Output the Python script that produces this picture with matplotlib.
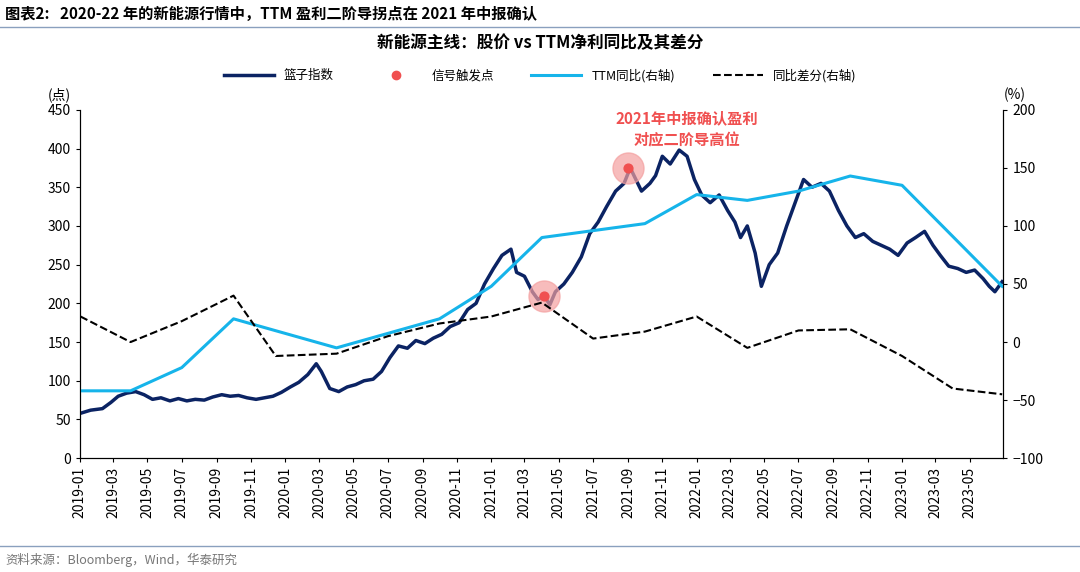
import numpy as np
import pandas as pd
import matplotlib
matplotlib.use('Agg')
import matplotlib.pyplot as plt
import matplotlib.dates as mdates
from matplotlib.lines import Line2D

plt.rcParams['font.family'] = ['Noto Sans CJK SC', 'DejaVu Sans']

# basket index
idx = [
('2019-01-02',58),('2019-01-20',62),('2019-02-10',64),('2019-02-25',72),('2019-03-10',80),('2019-03-25',84),
('2019-04-10',86),('2019-04-25',82),('2019-05-10',76),('2019-05-25',78),('2019-06-10',74),('2019-06-25',77),
('2019-07-10',74),('2019-07-25',76),('2019-08-10',75),('2019-08-25',79),('2019-09-10',82),('2019-09-25',80),
('2019-10-10',81),('2019-10-25',78),('2019-11-10',76),('2019-11-25',78),('2019-12-10',80),('2019-12-25',85),
('2020-01-10',92),('2020-01-25',98),('2020-02-10',108),('2020-02-25',122),('2020-03-05',112),('2020-03-20',90),
('2020-04-05',86),('2020-04-20',92),('2020-05-05',95),('2020-05-20',100),('2020-06-05',102),('2020-06-20',112),
('2020-07-05',130),('2020-07-20',145),('2020-08-05',142),('2020-08-20',152),('2020-09-05',148),('2020-09-20',155),
('2020-10-05',160),('2020-10-20',170),('2020-11-05',175),('2020-11-20',192),('2020-12-05',200),('2020-12-20',225),
('2021-01-05',245),('2021-01-20',262),('2021-02-05',270),('2021-02-15',240),('2021-03-01',235),('2021-03-15',215),
('2021-03-25',205),('2021-04-05',210),('2021-04-15',198),('2021-04-25',215),('2021-05-10',225),('2021-05-25',240),
('2021-06-10',260),('2021-06-25',290),('2021-07-10',305),('2021-07-25',325),('2021-08-10',345),('2021-08-25',355),
('2021-09-05',375),('2021-09-15',360),('2021-09-25',345),('2021-10-10',355),('2021-10-20',365),('2021-11-01',390),
('2021-11-15',380),('2021-12-01',398),('2021-12-15',390),('2021-12-28',360),('2022-01-10',340),('2022-01-25',330),
('2022-02-10',340),('2022-02-25',320),('2022-03-10',305),('2022-03-20',285),('2022-04-01',300),('2022-04-15',265),
('2022-04-26',222),('2022-05-10',250),('2022-05-25',265),('2022-06-10',300),('2022-06-25',330),('2022-07-10',360),
('2022-07-25',350),('2022-08-10',355),('2022-08-25',345),('2022-09-10',320),('2022-09-25',300),('2022-10-10',285),
('2022-10-25',290),('2022-11-10',280),('2022-11-25',275),('2022-12-10',270),('2022-12-25',262),('2023-01-10',278),
('2023-01-25',285),('2023-02-10',293),('2023-02-25',275),('2023-03-10',262),('2023-03-25',248),('2023-04-10',245),
('2023-04-25',240),('2023-05-10',243),('2023-05-25',232),('2023-06-05',222),('2023-06-15',215),('2023-06-28',228),
]
ttm = [('2019-01-02',-42),('2019-04-01',-42),('2019-07-01',-22),('2019-10-01',20),('2020-04-01',-5),
       ('2020-10-01',20),('2021-01-01',48),('2021-04-01',90),('2021-10-01',102),('2022-01-01',127),
       ('2022-04-01',122),('2022-07-01',130),('2022-10-01',143),('2023-01-01',135),('2023-06-28',48)]
diff = [('2019-01-02',22),('2019-04-01',0),('2019-07-01',18),('2019-10-01',40),('2019-12-15',-12),
        ('2020-04-01',-10),('2020-07-01',5),('2020-10-01',16),('2021-01-01',22),('2021-04-01',34),
        ('2021-07-01',3),('2021-10-01',9),('2022-01-01',22),('2022-04-01',-5),('2022-07-01',10),
        ('2022-10-01',11),('2023-01-01',-12),('2023-04-01',-40),('2023-06-28',-45)]
signals = [('2021-04-05',210),('2021-09-01',375)]

def df(rows):
    d = pd.DataFrame(rows, columns=['date','v'])
    d['date'] = pd.to_datetime(d['date'])
    return d

idx, ttm, diff, sig = df(idx), df(ttm), df(diff), df(signals)

navy = '#0b2363'
cyan = '#16b4ea'
fig = plt.figure(figsize=(10.8,5.72), dpi=100)
ax = fig.add_axes([0.074,0.199,0.855,0.609])
ax2 = ax.twinx()

ax.plot(idx['date'], idx['v'], color=navy, lw=2.5, zorder=3)
ax.scatter(sig['date'], sig['v'], s=500, color='#f4a0a0', alpha=0.7, zorder=4)
ax.scatter(sig['date'], sig['v'], s=40, color='#f05050', zorder=5)
ax2.plot(ttm['date'], ttm['v'], color=cyan, lw=2.2)
ax2.plot(diff['date'], diff['v'], color='black', lw=1.5, ls='--')

ax.set_ylim(0,450); ax.set_yticks(range(0,451,50))
ax2.set_ylim(-100,200); ax2.set_yticks(range(-100,201,50))
ax.set_xlim(pd.Timestamp('2019-01-01'), pd.Timestamp('2023-06-30'))
ax.xaxis.set_major_locator(mdates.MonthLocator(bymonth=[1,3,5,7,9,11]))
ax.xaxis.set_major_formatter(mdates.DateFormatter('%Y-%m'))
plt.setp(ax.get_xticklabels(), rotation=90)
for a in (ax, ax2):
    a.tick_params(labelsize=10, length=3)
    a.spines['top'].set_visible(False)
ax.text(-0.01,1.03,'(点)',transform=ax.transAxes,fontsize=10,ha='right')
ax2.text(1.0,1.03,'(%)',transform=ax.transAxes,fontsize=10,ha='left')

ax.text(pd.Timestamp('2021-12-15'), 425, '2021年中报确认盈利\n对应二阶导高位', color='#f05050',
        fontsize=11, fontweight='bold', ha='center', va='center', linespacing=1.5)

handles = [Line2D([],[],color=navy,lw=2.5), Line2D([],[],marker='o',ls='',color='#f05050',ms=6),
           Line2D([],[],color=cyan,lw=2.2), Line2D([],[],color='black',lw=1.5,ls='--')]
fig.legend(handles, ['篮子指数','信号触发点','TTM同比(右轴)','同比差分(右轴)'], loc='center',
           bbox_to_anchor=(0.5,0.868), ncol=4, frameon=False, fontsize=9, handlelength=4, columnspacing=3)

fig.text(0.5,0.915,'新能源主线：股价 vs TTM净利同比及其差分',ha='center',fontsize=12,fontweight='bold')
fig.text(0.005,0.975,'图表2:   2020-22 年的新能源行情中，TTM 盈利二阶导拐点在 2021 年中报确认',
         fontsize=11,fontweight='bold',va='center')
fig.add_artist(Line2D([0,1],[0.953,0.953],color='#8aa0be',lw=1))
fig.add_artist(Line2D([0,1],[0.045,0.045],color='#8aa0be',lw=1))
fig.text(0.005,0.022,'资料来源：Bloomberg，Wind，华泰研究',fontsize=9,color='#777777',va='center')
fig.savefig('out.png')
